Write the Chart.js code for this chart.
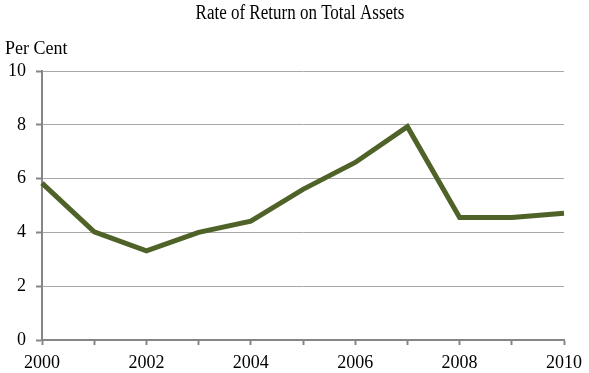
<!DOCTYPE html>
<html>
<head>
<meta charset="utf-8">
<script src="https://cdn.jsdelivr.net/npm/chart.js@4/dist/chart.umd.min.js"></script>
<style>
  html, body { margin: 0; padding: 0; background: #fff; }
  #wrap { width: 589px; height: 373px; }
</style>
</head>
<body>
<div id="wrap"><canvas id="c" width="589" height="373"></canvas></div>
<script>
const years = ['2000','2001','2002','2003','2004','2005','2006','2007','2008','2009','2010'];
const returnOnAssets = [5.83, 4.02, 3.31, 4.0, 4.42, 5.6, 6.6, 7.93, 4.55, 4.55, 4.71];
const yTicks = [0, 2, 4, 6, 8, 10];
const titleText = 'Rate of Return on Total Assets';
const unitText = 'Per Cent';

const serif = "'Liberation Serif', 'Times New Roman', serif";
const axisGray = '#868686';

// Title drawn centred over the page (slightly taller glyphs as in the reference)
const titlePlugin = {
  id: 'titleAt',
  afterDraw(chart) {
    const ctx = chart.ctx;
    ctx.save();
    ctx.fillStyle = '#000';
    ctx.font = "17px " + serif;
    ctx.textAlign = 'center';
    ctx.textBaseline = 'alphabetic';
    ctx.translate(300, 18.5);
    ctx.scale(1, 1.22);
    ctx.fillText(titleText, 0, 0);
    ctx.restore();
  }
};

new Chart(document.getElementById('c'), {
  type: 'line',
  data: {
    labels: years,
    datasets: [{
      data: returnOnAssets,
      borderColor: '#4f6228',
      borderWidth: 5,
      pointRadius: 0,
      tension: 0,
      fill: false,
      borderJoinStyle: 'miter'
    }]
  },
  plugins: [titlePlugin],
  options: {
    responsive: false,
    animation: false,
    devicePixelRatio: 1,
    layout: { padding: { left: 5, right: 22, top: 0, bottom: 0 } },
    plugins: {
      legend: { display: false },
      tooltip: { enabled: false },
      title: { display: false },
      subtitle: {
        display: true,
        text: unitText,
        align: 'start',
        color: '#000',
        font: { family: serif, size: 18, weight: 'normal', lineHeight: 1.2 },
        padding: { top: 38.6, bottom: 10.8 }
      }
    },
    scales: {
      x: {
        type: 'category',
        offset: false,
        border: { display: true, color: axisGray, width: 2 },
        grid: {
          drawOnChartArea: false,
          drawTicks: true,
          tickLength: 5,
          tickColor: axisGray,
          tickWidth: 2
        },
        ticks: {
          autoSkip: false,
          maxRotation: 0,
          color: '#000',
          padding: 7,
          font: { family: serif, size: 18 },
          callback: function(value, index) {
            const y = parseInt(years[index], 10);
            return (y % 2 === 0) ? years[index] : '';
          }
        },
        afterFit: function(scale) { scale.height = 33; }
      },
      y: {
        min: 0,
        max: 10,
        border: { display: true, color: axisGray, width: 2 },
        grid: {
          color: function(ctx) { return ctx.tick && ctx.tick.value === 0 ? 'rgba(0,0,0,0)' : '#a8a8a8'; },
          lineWidth: 1,
          borderDash: [1, 2, 1, 2, 1, 2, 7, 2],
          drawTicks: true,
          tickLength: 6,
          tickColor: axisGray,
          tickWidth: 2
        },
        afterBuildTicks: function(scale) {
          scale.ticks = yTicks.map(v => ({ value: v }));
        },
        ticks: {
          color: '#000',
          padding: 10,
          font: { family: serif, size: 18 }
        },
        afterFit: function(scale) { scale.width = 37; }
      }
    }
  }
});
</script>
</body>
</html>
